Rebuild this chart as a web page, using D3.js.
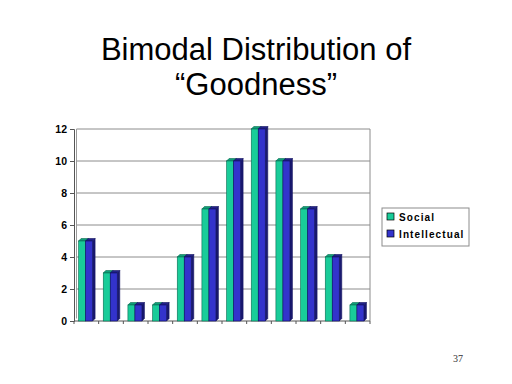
<!DOCTYPE html>
<html>
<head>
<meta charset="utf-8">
<script src="https://cdn.jsdelivr.net/npm/d3@7"></script>
<style>
  body { margin: 0; background: #fff; }
  svg { display: block; }
</style>
</head>
<body>
<div id="chart"></div>
<script>
// chart data
var categories = ["1","2","3","4","5","6","7","8","9","10","11","12"];
var seriesNames = ["Social", "Intellectual"];
var socialValues = [5, 3, 1, 1, 4, 7, 10, 12, 10, 7, 4, 1];
var intellectualValues = [5, 3, 1, 1, 4, 7, 10, 12, 10, 7, 4, 1];
var yTicks = [0, 2, 4, 6, 8, 10, 12];

var colors = {
    Social: {front: "#19CC99", top: "#10a07a", side: "#0f8a68", stroke: "#0b6b50"},
    Intellectual: {front: "#3333CC", top: "#22228a", side: "#1a1a70", stroke: "#101060"}
};

var svgW = 512, svgH = 384;
var plot = {left: 74, right: 370, top: 129, bottom: 321};
var depth = 2.5;

var svg = d3.select("#chart").append("svg")
    .attr("width", svgW)
    .attr("height", svgH);

// title
var title = svg.append("text")
    .attr("x", 256)
    .attr("text-anchor", "middle")
    .style("font-family", "Liberation Sans, Arial, sans-serif")
    .style("font-size", "31px")
    .attr("fill", "#000");
title.append("tspan").attr("x", 256).attr("y", 60).text("Bimodal Distribution of");
title.append("tspan").attr("x", 256).attr("y", 95).text("\u201CGoodness\u201D");

var x = d3.scaleBand()
    .domain(categories)
    .range([plot.left, plot.right])
    .padding(0);

var y = d3.scaleLinear()
    .domain([0, 12])
    .range([plot.bottom, plot.top]);

var groupW = 14;
var xs = d3.scaleBand()
    .domain(seriesNames)
    .range([0, groupW]);

// back wall gridlines
svg.append("g").selectAll("line.grid")
    .data(yTicks.filter(d => d > 0))
    .enter().append("line")
    .attr("x1", plot.left + depth)
    .attr("x2", plot.right)
    .attr("y1", d => y(d))
    .attr("y2", d => y(d))
    .attr("stroke", "#8c8c8c")
    .attr("stroke-width", 1);

// right border of plot
svg.append("line")
    .attr("x1", plot.right).attr("x2", plot.right)
    .attr("y1", plot.top).attr("y2", plot.bottom)
    .attr("stroke", "#8c8c8c");

// wall left edge
svg.append("line")
    .attr("x1", plot.left + depth).attr("x2", plot.left + depth)
    .attr("y1", plot.top).attr("y2", plot.bottom - depth)
    .attr("stroke", "#9a9a9a");

// y axis
var yAxis = d3.axisLeft(y)
    .tickValues(yTicks)
    .tickSize(4)
    .tickPadding(3);

var gy = svg.append("g")
    .attr("transform", "translate(" + plot.left + ",0)")
    .call(yAxis);
gy.select(".domain").attr("stroke", "#555");
gy.selectAll(".tick line").attr("stroke", "#555");
gy.selectAll("text")
    .style("font-family", "Liberation Sans, Arial, sans-serif")
    .style("font-size", "10.5px")
    .style("font-weight", "bold")
    .attr("fill", "#000");

// x axis (ticks between categories, no labels)
var xBounds = categories.map(c => x(c)).concat([plot.right]);
svg.append("line")
    .attr("x1", plot.left).attr("x2", plot.right)
    .attr("y1", plot.bottom).attr("y2", plot.bottom)
    .attr("stroke", "#555");
svg.append("g").selectAll("line")
    .data(xBounds)
    .enter().append("line")
    .attr("x1", d => d).attr("x2", d => d)
    .attr("y1", plot.bottom).attr("y2", plot.bottom + 3)
    .attr("stroke", "#555");

// bars
var rows = categories.map(function(c, i) {
    return {cat: c, values: [
        {name: "Social", value: socialValues[i]},
        {name: "Intellectual", value: intellectualValues[i]}
    ]};
});

var groups = svg.append("g").selectAll("g.grp")
    .data(rows)
    .enter().append("g")
    .attr("transform", d => "translate(" + (x(d.cat) + (x.bandwidth() - groupW - depth) / 2 + 0.5) + ",0)");

var bars = groups.selectAll("g.bar")
    .data(d => d.values)
    .enter().append("g");

// side face
bars.append("path")
    .attr("d", function(d) {
        var x1 = xs(d.name) + xs.bandwidth();
        var yt = y(d.value), yb = y(0);
        return "M" + x1 + "," + yt + "L" + (x1 + depth) + "," + (yt - depth) +
            "L" + (x1 + depth) + "," + (yb - depth) + "L" + x1 + "," + yb + "Z";
    })
    .attr("fill", d => colors[d.name].side)
    .attr("stroke", d => colors[d.name].stroke)
    .attr("stroke-width", 0.6);

// top face
bars.append("path")
    .attr("d", function(d) {
        var x0 = xs(d.name), x1 = x0 + xs.bandwidth();
        var yt = y(d.value);
        return "M" + x0 + "," + yt + "L" + (x0 + depth) + "," + (yt - depth) +
            "L" + (x1 + depth) + "," + (yt - depth) + "L" + x1 + "," + yt + "Z";
    })
    .attr("fill", d => colors[d.name].top)
    .attr("stroke", d => colors[d.name].stroke)
    .attr("stroke-width", 0.6);

// front face
bars.append("rect")
    .attr("x", d => xs(d.name))
    .attr("y", d => y(d.value))
    .attr("width", xs.bandwidth())
    .attr("height", d => y(0) - y(d.value))
    .attr("fill", d => colors[d.name].front)
    .attr("stroke", d => colors[d.name].stroke)
    .attr("stroke-width", 0.6);

// legend
var legend = svg.append("g").attr("transform", "translate(382,208)");
legend.append("rect")
    .attr("x", 0).attr("y", 0)
    .attr("width", 87).attr("height", 38)
    .attr("fill", "#fff")
    .attr("stroke", "#8c8c8c");

var li = legend.selectAll("g.item")
    .data(seriesNames)
    .enter().append("g")
    .attr("transform", (d, i) => "translate(5," + (5 + i * 17) + ")");
li.append("rect")
    .attr("width", 7).attr("height", 7)
    .attr("fill", d => colors[d].front)
    .attr("stroke", "#000")
    .attr("stroke-width", 0.7);
li.append("text")
    .attr("x", 12)
    .attr("y", 8)
    .style("font-family", "Liberation Sans, Arial, sans-serif")
    .style("font-size", "10px")
    .style("font-weight", "bold")
    .style("letter-spacing", "1.1px")
    .attr("fill", "#000")
    .text(d => d);

// page number
svg.append("text")
    .attr("x", 463)
    .attr("y", 362)
    .attr("text-anchor", "end")
    .style("font-family", "Liberation Serif, Times New Roman, serif")
    .style("font-size", "10px")
    .attr("fill", "#333")
    .text("37");
</script>
</body>
</html>
